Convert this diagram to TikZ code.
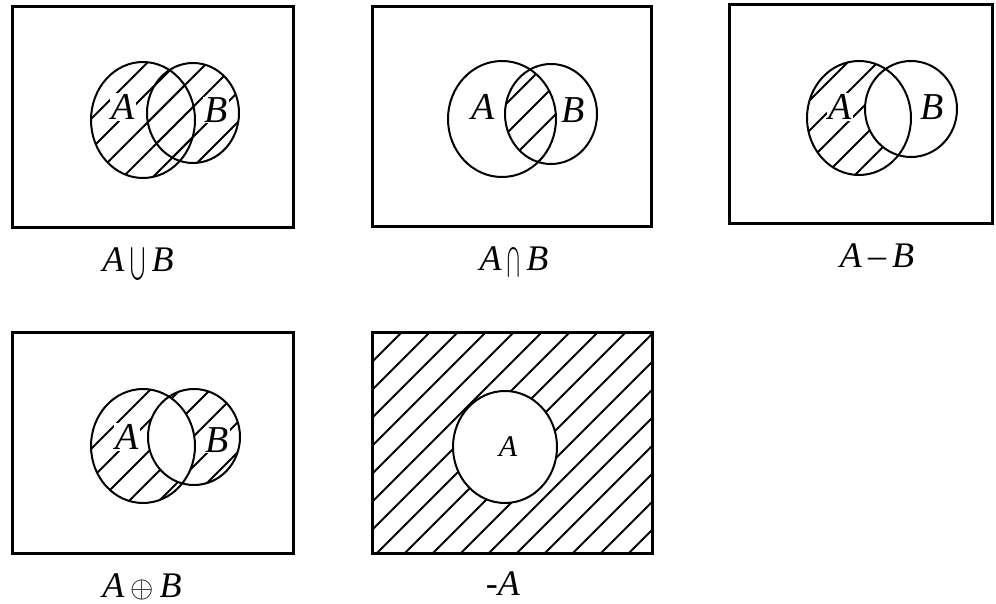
\documentclass[tikz,border=0pt]{standalone}
\usepackage{graphicx}
\usepackage{fontspec}
\setmainfont{Liberation Serif}
\tikzset{
  frame/.style={line width=3pt},
  setline/.style={line width=2pt},
  hatchline/.style={line width=1.8pt},
  lbl/.style={font=\fontsize{38}{40}\selectfont\itshape, inner sep=1pt, fill=white},
  lblsmall/.style={font=\fontsize{30}{34}\selectfont\itshape, inner sep=1pt},
  capt/.style={font=\fontsize{36}{40}\selectfont, anchor=base, inner sep=0pt}
}
\newcommand\bigcupsym{\scalebox{1.8}[3.3]{\fontsize{10}{12}\selectfont$\bigcup$}}
\newcommand\bigcapsym{\scalebox{1.5}[3.0]{\fontsize{10}{12}\selectfont$\bigcap$}}
\newcommand\oplussym{\scalebox{3.0}{\fontsize{10}{12}\selectfont$\oplus$}}
\begin{document}
\begin{tikzpicture}[x=1pt,y=-1pt]
\useasboundingbox (0,0) rectangle (996,604);
% ---------- Panel 1: A union B ----------
\begin{scope}
  \clip (143,120) ellipse [x radius=52, y radius=58];
  \foreach \hh in {60,90,...,600} \draw[hatchline] (\hh,0) -- ++(-700,700);
\end{scope}
\begin{scope}
  \clip (193,113) ellipse [x radius=46, y radius=50];
  \foreach \hh in {60,90,...,600} \draw[hatchline] (\hh,0) -- ++(-700,700);
\end{scope}
\node[lbl] (a1) at (123,107) {A};
\node[lbl] (b1) at (216,110) {B};
\draw[setline] (143,120) ellipse [x radius=52, y radius=58];
\draw[setline] (193,113) ellipse [x radius=46, y radius=50];
\draw[frame] (12,7) rectangle (293,228);
\node[capt] (c1) at (138,272) {\textit{A}\,\bigcupsym\,\textit{B}};
% ---------- Panel 2: A intersect B ----------
\begin{scope}
  \clip (502,119) ellipse [x radius=54, y radius=58];
  \clip (551,114) ellipse [x radius=46, y radius=50];
  \foreach \hh in {400,430,...,1000} \draw[hatchline] (\hh,0) -- ++(-700,700);
\end{scope}
\node[lbl] (a2) at (483,107) {A};
\node[lbl] (b2) at (573,110) {B};
\draw[setline] (502,119) ellipse [x radius=54, y radius=58];
\draw[setline] (551,114) ellipse [x radius=46, y radius=50];
\draw[frame] (372,7) rectangle (651,227);
\node[capt] (c2) at (514,270) {\textit{A}\,\bigcapsym\,\textit{B}};
% ---------- Panel 3: A minus B ----------
\begin{scope}
  \clip (859,118) ellipse [x radius=52, y radius=57];
  \foreach \hh in {760,790,...,1400} \draw[hatchline] (\hh,0) -- ++(-700,700);
  \fill[white] (911,109) ellipse [x radius=46, y radius=48];
\end{scope}
\node[lbl] (a3) at (840,107) {A};
\node[lbl] (b3) at (932,107) {B};
\draw[setline] (859,118) ellipse [x radius=52, y radius=57];
\draw[setline] (911,109) ellipse [x radius=46, y radius=48];
\draw[frame] (729,5) rectangle (992,224);
\node[capt] (c3) at (877,268) {\textit{A}\,–\,\textit{B}};
% ---------- Panel 4: A xor B ----------
\begin{scope}
  \clip (143,446) ellipse [x radius=52, y radius=57];
  \foreach \hh in {300,330,...,1000} \draw[hatchline] (\hh,0) -- ++(-700,700);
\end{scope}
\begin{scope}
  \clip (194,437) ellipse [x radius=46, y radius=48];
  \foreach \hh in {300,330,...,1000} \draw[hatchline] (\hh,0) -- ++(-700,700);
\end{scope}
\begin{scope}
  \clip (143,446) ellipse [x radius=52, y radius=57];
  \fill[white] (194,437) ellipse [x radius=46, y radius=48];
\end{scope}
\node[lbl] (a4) at (127,437) {A};
\node[lbl] (b4) at (217,440) {B};
\draw[setline] (143,446) ellipse [x radius=52, y radius=57];
\draw[setline] (194,437) ellipse [x radius=46, y radius=48];
\draw[frame] (12,332) rectangle (293,553);
\node[capt] (c4) at (142,597) {\textit{A}\,\oplussym\,\textit{B}};
% ---------- Panel 5: complement of A ----------
\begin{scope}
  \clip (372,332) rectangle (652,553);
  \foreach \hh in {706,734,...,1300} \draw[hatchline] (\hh,0) -- ++(-700,700);
  \fill[white] (505,447) ellipse [x radius=52, y radius=56];
\end{scope}
\draw[setline] (505,447) ellipse [x radius=52, y radius=56];
\node[lblsmall] (a5) at (508,447) {A};
\draw[frame] (372,332) rectangle (652,553);
\node[capt] (c5) at (503,595) {-\textit{A}};
\end{tikzpicture}
\end{document}
